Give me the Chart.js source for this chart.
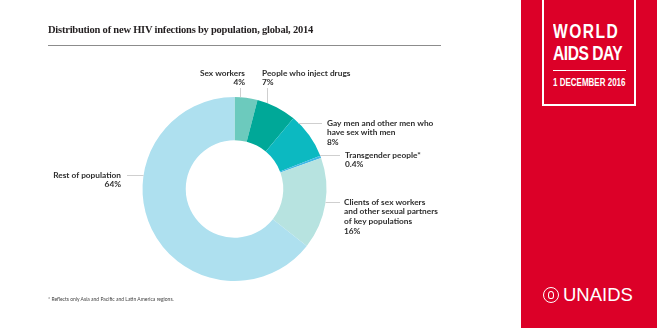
<!DOCTYPE html>
<html>
<head>
<meta charset="utf-8">
<script src="https://cdn.jsdelivr.net/npm/chart.js@4"></script>
<style>
  html,body{margin:0;padding:0;background:#fff;}
  body{width:657px;height:328px;position:relative;overflow:hidden;}
  #c{position:absolute;left:0;top:0;}
  .title{position:absolute;left:48px;top:24px;font-family:"Liberation Serif","DejaVu Serif",serif;font-weight:bold;font-size:10.5px;line-height:12px;color:#231f20;white-space:nowrap;letter-spacing:-0.22px;}
  .rule{position:absolute;left:48px;top:44.5px;width:393px;height:1px;background:#8c8c8c;}
  .foot{position:absolute;left:48px;top:296px;font-family:Lato,"Noto Sans",sans-serif;font-size:5px;line-height:6px;color:#444;white-space:nowrap;}
  .panel{position:absolute;left:521px;top:0;width:136px;height:328px;background:#dc0028;}
  .frame{position:absolute;left:21px;top:-4px;width:90px;height:106px;border:2px solid #fff;}
  .wad{position:absolute;left:32px;color:#fff;font-family:"Liberation Sans",Arimo,sans-serif;font-weight:bold;white-space:nowrap;transform:scaleX(0.8);transform-origin:0 0;}
  .hl{position:absolute;left:32px;top:69.5px;width:73px;height:1px;background:#fff;}
  .logo{position:absolute;left:22px;top:285px;height:20px;color:#fff;font-family:"Liberation Sans",Arimo,sans-serif;font-size:18.5px;line-height:20px;white-space:nowrap;}
  .emb{position:absolute;left:0;top:2px;width:14px;height:14px;border:1.5px solid #fff;border-radius:50%;}
  .emb2{position:absolute;left:4px;top:3px;width:6px;height:8px;border:1.3px solid #fff;border-radius:50% 50% 40% 40%;box-sizing:border-box;}
</style>
</head>
<body>
<canvas id="c" width="657" height="328"></canvas>
<div class="title">Distribution of new HIV infections by population, global, 2014</div>
<div class="rule"></div>
<div class="foot">* Reflects only Asia and Pacific and Latin America regions.</div>
<div class="panel">
  <div class="frame"></div>
  <div class="wad" style="top:20.5px;font-size:19.5px;line-height:20px;letter-spacing:1.8px;">WORLD</div>
  <div class="wad" style="top:42.5px;font-size:19.5px;line-height:20px;letter-spacing:-0.6px;">AIDS DAY</div>
  <div class="hl"></div>
  <div class="wad" style="top:76.5px;font-size:10px;line-height:11px;letter-spacing:0px;">1 DECEMBER 2016</div>
  <div class="logo"><div class="emb"><div class="emb2"></div></div><span style="position:absolute;left:20px;top:0;">UNAIDS</span></div>
</div>
<script>
// ---- data ----
const categories = [
  "Sex workers",
  "People who inject drugs",
  "Gay men and other men who have sex with men",
  "Transgender people*",
  "Clients of sex workers and other sexual partners of key populations",
  "Rest of population"
];
const labelLines = [
  ["Sex workers"],
  ["People who inject drugs"],
  ["Gay men and other men who", "have sex with men"],
  ["Transgender people*"],
  ["Clients of sex workers", "and other sexual partners", "of key populations"],
  ["Rest of population"]
];
const shares = [4, 7, 8, 0.4, 16, 64];
const shareLabels = ["4%", "7%", "8%", "0.4%", "16%", "64%"];
const colors = ["#6ccabd", "#00a898", "#0cb9c1", "#3fb8e6", "#b7e3e0", "#aee0ef"];

// ---- label layout (relative to doughnut centre) ----
const labelLayout = [
  {align: "right", tx: 10.5,  ty: -116, leader: "v", at: 5.5,  to: -101},
  {align: "left",  tx: 27.5,  ty: -116, leader: "v", at: 32.5, to: -101},
  {align: "left",  tx: 92.5,  ty: -66,  leader: "h", at: -66,  to: 87.5},
  {align: "left",  tx: 110.5, ty: -34,  leader: "h", at: -34,  to: 105.5},
  {align: "left",  tx: 109.5, ty: 13,   leader: "h", at: 13,   to: 105.5},
  {align: "right", tx: -113.5,ty: -14,  leader: "h", at: -14,  to: -107.5}
];

const calloutPlugin = {
  id: "callouts",
  afterDatasetsDraw(chart) {
    const ctx = chart.ctx;
    const meta = chart.getDatasetMeta(0);
    const arc0 = meta.data[0];
    const cx = arc0.x, cy = arc0.y, R = arc0.outerRadius;
    ctx.save();
    ctx.strokeStyle = "#cfcfcf";
    ctx.lineWidth = 1;
    labelLayout.forEach((L, i) => {
      ctx.beginPath();
      if (L.leader === "v") {
        const x = Math.round(cx + L.at) + 0.5;
        const yEdge = cy - Math.sqrt(R * R - L.at * L.at);
        ctx.moveTo(x, cy + L.to);
        ctx.lineTo(x, yEdge);
      } else {
        const y = Math.round(cy + L.at) + 0.5;
        const dx = Math.sqrt(R * R - L.at * L.at);
        const xEdge = L.to > 0 ? cx + dx : cx - dx;
        ctx.moveTo(xEdge, y);
        ctx.lineTo(cx + L.to, y);
      }
      ctx.stroke();
      const lines = labelLines[i].concat([shareLabels[i]]);
      ctx.fillStyle = "#2e2e2e";
      ctx.font = "bold 8.3px Lato, 'Noto Sans', sans-serif";
      ctx.textAlign = L.align;
      ctx.textBaseline = "middle";
      lines.forEach((t, k) => {
        ctx.fillText(t, cx + L.tx, cy + L.ty + k * 9.8);
      });
    });
    ctx.restore();
  }
};

new Chart(document.getElementById("c"), {
  type: "doughnut",
  data: {
    labels: categories,
    datasets: [{
      data: shares,
      backgroundColor: colors,
      borderWidth: 0,
      hoverOffset: 0
    }]
  },
  options: {
    responsive: false,
    animation: false,
    cutout: "53%",
    layout: {padding: {left: 142.5, right: 330.5, top: 97, bottom: 47}},
    plugins: {legend: {display: false}, tooltip: {enabled: false}, title: {display: false}}
  },
  plugins: [calloutPlugin]
});
</script>
</body>
</html>
